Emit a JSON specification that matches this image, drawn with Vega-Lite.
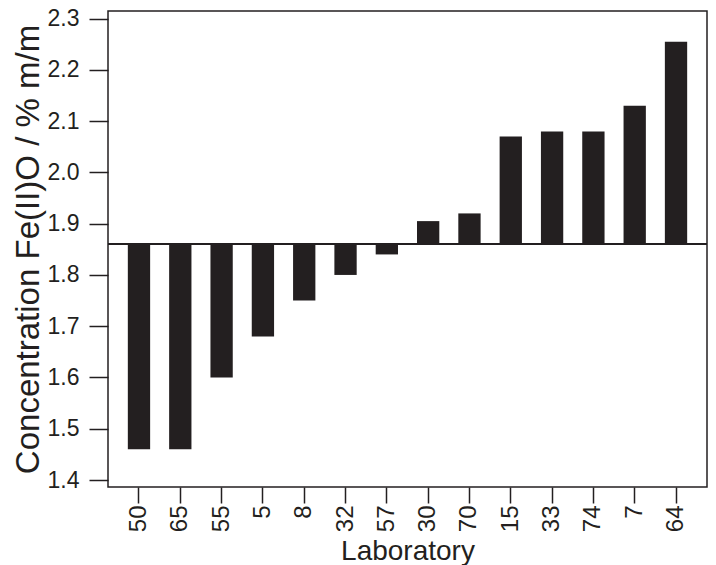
{
  "$schema": "https://vega.github.io/schema/vega-lite/v6.json",
  "autosize": {"type": "none"},
  "padding": {"left": 108, "top": 11, "right": 9, "bottom": 78},
  "width": 599,
  "height": 476,
  "config": {
    "font": "Liberation Sans",
    "view": {"stroke": "#231f20", "strokeWidth": 1.5},
    "axis": {"grid": false, "domain": false, "labelColor": "#231f20", "titleColor": "#231f20", "tickColor": "#231f20", "tickWidth": 1.5, "titleFontWeight": "normal"}
  },
  "data": {
    "values": [
      {"lab": "50", "conc": 1.46},
      {"lab": "65", "conc": 1.46},
      {"lab": "55", "conc": 1.60},
      {"lab": "5", "conc": 1.68},
      {"lab": "8", "conc": 1.75},
      {"lab": "32", "conc": 1.80},
      {"lab": "57", "conc": 1.84},
      {"lab": "30", "conc": 1.905},
      {"lab": "70", "conc": 1.92},
      {"lab": "15", "conc": 2.07},
      {"lab": "33", "conc": 2.08},
      {"lab": "74", "conc": 2.08},
      {"lab": "7", "conc": 2.13},
      {"lab": "64", "conc": 2.255}
    ]
  },
  "layer": [
    {
      "mark": {"type": "bar", "color": "#231f20"},
      "encoding": {
        "x": {
          "field": "lab", "type": "nominal", "sort": null,
          "scale": {"paddingInner": 0.46, "paddingOuter": 0.48},
          "axis": {"title": "Laboratory", "labelAngle": -90, "labelFontSize": 24, "labelPadding": 2, "tickSize": 16, "titleFontSize": 28, "titlePadding": 6}
        },
        "y": {
          "field": "conc", "type": "quantitative",
          "scale": {"domain": [1.3864, 2.3148], "nice": false, "zero": false},
          "axis": {"title": "Concentration Fe(II)O / % m/m", "values": [1.4, 1.5, 1.6, 1.7, 1.8, 1.9, 2.0, 2.1, 2.2, 2.3], "format": ".1f", "labelFontSize": 23, "labelPadding": 10, "tickSize": 19, "titleFontSize": 33, "titlePadding": 2}
        },
        "y2": {"datum": 1.86}
      }
    },
    {
      "mark": {"type": "rule", "color": "#231f20", "strokeWidth": 1.5},
      "encoding": {
        "y": {"datum": 1.86}
      }
    }
  ]
}
